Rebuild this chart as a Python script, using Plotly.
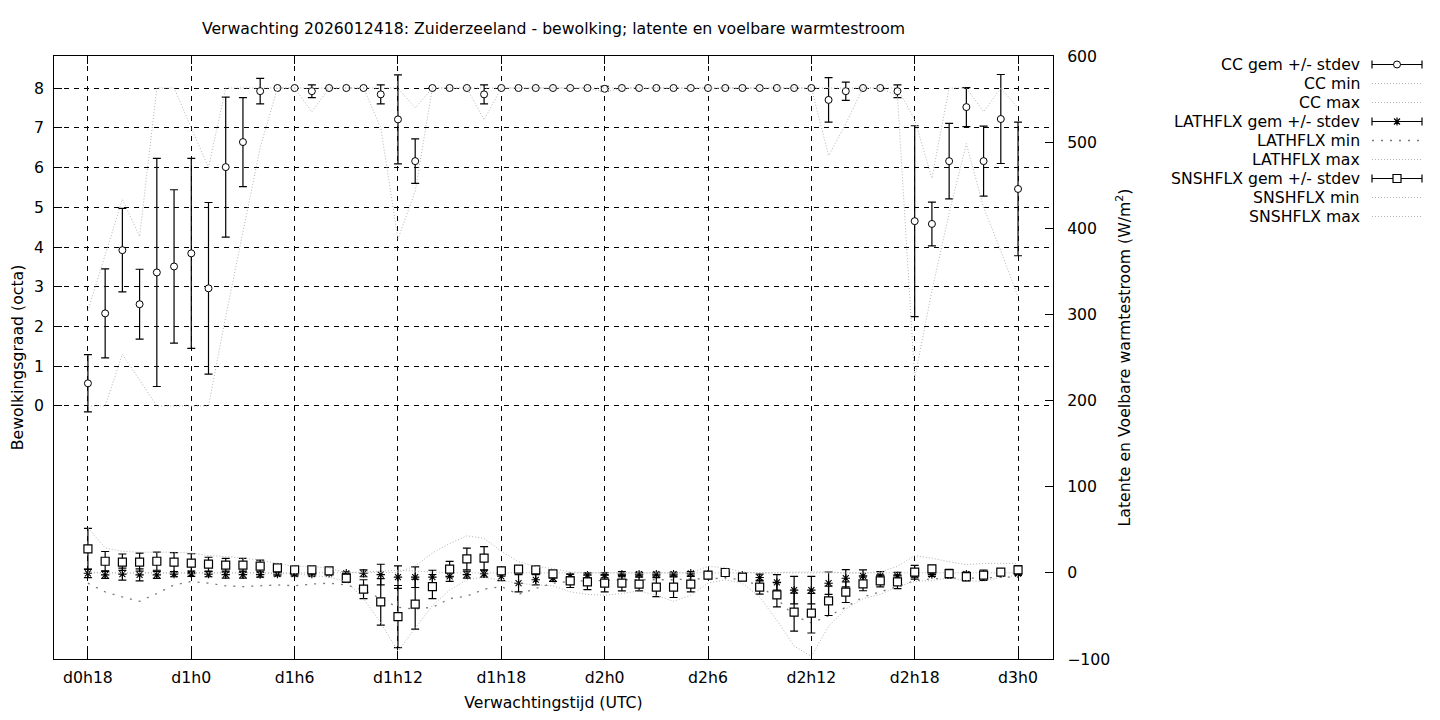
import plotly.graph_objects as go

# ---------------- data ----------------
hours = list(range(18, 73))  # forecast hours since d0h0
tick_vals = [18, 24, 30, 36, 42, 48, 54, 60, 66, 72]
tick_text = ["d0h18", "d1h0", "d1h6", "d1h12", "d1h18", "d2h0", "d2h6", "d2h12", "d2h18", "d3h0"]

cc_mean = [0.57, 2.33, 3.92, 2.56, 3.36, 3.51,
           3.84, 2.96, 6.01, 6.64, 7.92, 8.00,
           8.00, 7.92, 8.00, 8.00, 8.00, 7.84,
           7.21, 6.16, 8.00, 8.00, 8.00, 7.84,
           8.00, 8.00, 8.00, 8.00, 8.00, 8.00,
           7.98, 8.00, 8.00, 8.00, 8.00, 8.00,
           8.00, 8.00, 8.00, 8.00, 8.00, 8.00,
           8.00, 7.70, 7.92, 8.00, 8.00, 7.92,
           4.65, 4.58, 6.16, 7.52, 6.16, 7.22,
           5.46]
cc_sd = [0.72, 1.12, 1.05, 0.88, 2.87, 1.93,
         2.39, 2.16, 1.76, 1.12, 0.32, 0,
         0, 0.16, 0, 0, 0, 0.24,
         1.12, 0.56, 0, 0, 0, 0.24,
         0, 0, 0, 0, 0, 0,
         0.06, 0, 0, 0, 0, 0,
         0, 0, 0, 0, 0, 0,
         0, 0.56, 0.23, 0, 0, 0.16,
         2.40, 0.55, 0.95, 0.49, 0.88, 1.12,
         1.68]
cc_min = [0, 0, 1.3, 0.65, 0, 0,
          0, 0, 2.25, 4.4, 6.5, 8,
          8, 7.4, 8, 8, 8, 7.0,
          4.2, 5.4, 8, 8, 8, 7.2,
          8, 8, 8, 8, 8, 8,
          7.9, 8, 8, 8, 8, 8,
          8, 8, 8, 8, 8, 8,
          8, 6.3, 7.1, 8, 8, 7.8,
          0.7, 2.9, 4.85, 6.6, 5.0, 3.9,
          2.75]
cc_max = [2.4, 3.8, 5.2, 4.26, 8, 8,
          7.0, 6.0, 8, 8, 8, 8,
          8, 8, 8, 8, 8, 8,
          8, 7.5, 8, 8, 8, 8,
          8, 8, 8, 8, 8, 8,
          8, 8, 8, 8, 8, 8,
          8, 8, 8, 8, 8, 8,
          8, 8, 8, 8, 8, 8,
          7.2, 5.73, 8, 8, 7.4, 8,
          7.5]

lat_mean = [-0.5, -2.3, -1.5, -2.3, -2.3, -1.5,
            -1.0, -1.5, -2.0, -2.0, -2.0, -1.5,
            -1.5, -1.5, -0.5, -0.5, -0.5, -2.0,
            -5.0, -5.0, -5.0, -4.0, -2.0, -1.0,
            -4.0, -12.0, -8.0, -6.0, -4.3, -2.7,
            -2.7, -1.5, -1.5, -1.5, -1.5, -0.5,
            -1.5, -1.0, -3.0, -5.4, -11.0, -20.0,
            -20.0, -12.0, -6.2, -3.5, -3.5, -3.5,
            -2.0, -2.0, -1.5, -1.5, -1.5, -1.0,
            -1.0]
lat_sd = [5, 4, 7, 7, 4, 3,
          3, 3, 4, 4, 3, 2,
          2, 2, 1, 1.5, 4, 12,
          13, 12, 8, 6, 4, 4,
          5, 10, 6, 4, 3, 3,
          3, 3, 2, 2, 2, 2,
          2, 1, 2, 4, 9, 16,
          16, 13, 10, 7, 5, 4,
          3, 2, 2, 2, 2, 1,
          2]
lat_min = [-12, -22, -28, -33, -24, -14,
           -10, -12, -15, -16, -15, -14,
           -15, -13, -12, -14, -20, -30,
           -40, -42, -40, -30, -27, -19,
           -16, -25, -18, -12, -10, -9,
           -9, -8, -8, -8, -8, -7,
           -7, -6, -8, -15, -30, -50,
           -58, -50, -40, -28, -22, -16,
           -9, -7, -6, -6, -6, -5,
           -5]
lat_max = [1, 0, 0, 0, 0, 0,
           0, 0, 0, 0, 0, 0,
           0, 0, 0, 0, 1, 2,
           3, 2, 1, 0, 0, 0,
           0, 0, 0, 0, 0, 0,
           0, 0, 0, 0, 0, 0,
           0, 0, 0, 0, 0, 1,
           1, 1, 0, 0, 0, 0,
           0, 0, 0, 0, 0, 0,
           0]

sns_mean = [27.8, 13.5, 12.4, 12.4, 13.5, 12.4,
            11.2, 10.1, 8.9, 8.9, 7.8, 5.8,
            3.5, 3.5, 2.3, -6.2, -19.0, -33.7,
            -50.7, -36.4, -15.9, 4.3, 16.2, 17.0,
            2.3, 4.3, 3.5, -1.2, -9.3, -10.4,
            -12.0, -12.0, -13.0, -16.6, -16.6, -13.0,
            -2.7, 0.4, -5.0, -16.6, -25.5, -45.6,
            -46.8, -32.5, -22.4, -12.8, -9.3, -10.4,
            0.8, 4.6, -1.0, -4.3, -2.7, 0.8,
            3.5]
sns_sd = [23.8, 11.3, 9.5, 10.5, 10.5, 11,
          11, 8, 8, 8, 7, 4,
          3, 3, 2, 5, 11, 27,
          36, 29, 14, 9, 12.6, 13.5,
          4, 3, 2, 2, 7.7, 9,
          10, 9, 8, 11, 12, 9,
          4, 1, 4, 8, 14, 22,
          23, 17, 12, 8, 7, 8,
          8, 4, 5, 5, 6, 2,
          5]
sns_min = [0, 0, 0, 0, 0, 0,
           0, 0, 0, 0, 0, -1,
           -1, -3, -5, -10, -30, -58,
           -91, -64, -38, -20, -8, -5,
           -9, -12, -14, -15, -22, -25,
           -26, -24, -21, -26, -33, -26,
           -12, -8, -12, -28, -55, -85,
           -97, -62, -42, -30, -25, -16,
           -10, -9, -6, -9, -10, -5,
           -3]
sns_max = [52, 29, 25, 24, 24, 24,
           23, 20, 19, 17, 15, 11,
           7.5, 7.5, 5.5, 0, 0, 0,
           0.5, 8, 23, 34, 43, 40,
           25, 13, 7.5, 5, 1, 0,
           0, 0, 0, 0, 0, 0,
           7.5, 6, 1, 0, 0, 0,
           0, 0, 0, 0, 1, 7.5,
           20, 17, 13, 9.5, 11, 11,
           11]

legend_labels = ["CC gem +/- stdev", "CC min", "CC max",
                 "LATHFLX gem +/- stdev", "LATHFLX min", "LATHFLX max",
                 "SNSHFLX gem +/- stdev", "SNSHFLX min", "SNSHFLX max"]

title_text = "Verwachting 2026012418: Zuiderzeeland - bewolking; latente en voelbare warmtestroom"

# ---------------- styling ----------------
FONT = "DejaVu Sans"
FS = 15.7
LIGHT = "#b4b4b4"
DARK_DOT = "#7a7a7a"
LIGHT_DASH = "1px,2px"
SPARSE_DASH = "2px,7px"
OFF = 8                      # page body margin of the html page
W, H = 1440 - 2 * OFF, 720 - 2 * OFF
# plot area in screen pixels (reference frame)
PL, PR, PT, PB = 54, 1053, 56, 659


def nz(vals):
    return [v if v != 0 else None for v in vals]


fig = go.Figure()

err_style = dict(type="data", color="black", thickness=1.2, width=4)

# CC
fig.add_trace(go.Scatter(x=hours, y=cc_mean, mode="markers", yaxis="y",
                         marker=dict(symbol="circle", size=7, color="white",
                                     line=dict(color="black", width=1)),
                         error_y=dict(array=nz(cc_sd), **err_style),
                         showlegend=False))
fig.add_trace(go.Scatter(x=hours, y=cc_min, mode="lines", yaxis="y",
                         line=dict(color=LIGHT, width=1, dash=LIGHT_DASH), showlegend=False))
fig.add_trace(go.Scatter(x=hours, y=cc_max, mode="lines", yaxis="y",
                         line=dict(color=LIGHT, width=1, dash=LIGHT_DASH), showlegend=False))

# LATHFLX
fig.add_trace(go.Scatter(x=hours, y=lat_mean, mode="markers", yaxis="y2",
                         marker=dict(symbol="asterisk-open", size=7, color="black",
                                     line=dict(color="black", width=1.1)),
                         error_y=dict(array=nz(lat_sd), **err_style),
                         showlegend=False))
fig.add_trace(go.Scatter(x=hours, y=lat_min, mode="lines", yaxis="y2",
                         line=dict(color=DARK_DOT, width=1.3, dash=SPARSE_DASH), showlegend=False))
fig.add_trace(go.Scatter(x=hours, y=lat_max, mode="lines", yaxis="y2",
                         line=dict(color=LIGHT, width=1, dash=LIGHT_DASH), showlegend=False))

# SNSHFLX
fig.add_trace(go.Scatter(x=hours, y=sns_mean, mode="markers", yaxis="y2",
                         marker=dict(symbol="square", size=8, color="white",
                                     line=dict(color="black", width=1.2)),
                         error_y=dict(array=nz(sns_sd), **err_style),
                         showlegend=False))
fig.add_trace(go.Scatter(x=hours, y=sns_min, mode="lines", yaxis="y2",
                         line=dict(color=LIGHT, width=1, dash=LIGHT_DASH), showlegend=False))
fig.add_trace(go.Scatter(x=hours, y=sns_max, mode="lines", yaxis="y2",
                         line=dict(color=LIGHT, width=1, dash=LIGHT_DASH), showlegend=False))

GRID = dict(showgrid=True, gridcolor="black", gridwidth=1, griddash="5px,5px")
AX = dict(ticks="inside", ticklen=8, tickcolor="black", showline=True, linecolor="black",
          linewidth=1, zeroline=False, automargin=False,
          tickfont=dict(family=FONT, size=FS, color="black"))

fig.update_layout(
    width=W, height=H, autosize=False,
    margin=dict(l=PL - OFF, r=W - (PR - OFF), t=PT - OFF, b=H - (PB - OFF), pad=0,
                autoexpand=False),
    paper_bgcolor="white", plot_bgcolor="white",
    font=dict(family=FONT, size=FS, color="black"),
    title=dict(text=title_text, x=0.5, xref="paper", xanchor="center",
               y=1 - (29 - OFF) / H, yref="container", yanchor="middle",
               font=dict(family=FONT, size=FS, color="black")),
    xaxis=dict(range=[16.03, 74.03], tickmode="array", tickvals=tick_vals, ticktext=tick_text,
               mirror="ticks", ticklabelstandoff=4,
               title=dict(text="Verwachtingstijd (UTC)", standoff=20,
                          font=dict(family=FONT, size=FS)),
               **GRID, **AX),
    yaxis=dict(range=[-6.365, 8.805], tickmode="array", tickvals=list(range(0, 9)),
               ticklabelstandoff=6,
               title=dict(text="Bewolkingsgraad (octa)", standoff=8,
                          font=dict(family=FONT, size=FS)),
               **GRID, **AX),
    yaxis2=dict(range=[-100, 600], overlaying="y", side="right", tickmode="linear",
                tick0=0, dtick=100, showgrid=False, ticklabelstandoff=10,
                title=dict(text="Latente en Voelbare warmtestroom (W/m<sup>2</sup>)", standoff=9,
                           font=dict(family=FONT, size=FS)),
                **AX),
)


# ---------------- manual gnuplot-style legend ----------------
def px_x(px):
    return (px - PL) / (PR - PL)


def px_y(py):
    return (PB - py) / (PB - PT)


shapes = []
annotations = []
text_right = 1362
s0, s1 = 1372, 1422
smid = (s0 + s1) / 2
for i, lab in enumerate(legend_labels):
    py = 64.5 + 19.0 * i
    annotations.append(dict(text=lab, x=px_x(text_right), y=px_y(py), xref="paper", yref="paper",
                            xanchor="right", yanchor="middle", showarrow=False,
                            font=dict(family=FONT, size=FS, color="black")))
    yy = px_y(py)
    if "gem" in lab:
        shapes.append(dict(type="line", xref="paper", yref="paper", x0=px_x(s0), x1=px_x(s1),
                           y0=yy, y1=yy, line=dict(color="black", width=1.2)))
        for sx in (s0, s1):
            shapes.append(dict(type="line", xref="paper", yref="paper", xsizemode="scaled",
                               ysizemode="pixel", yanchor=yy, x0=px_x(sx), x1=px_x(sx),
                               y0=-4, y1=4, line=dict(color="black", width=1.2)))
        if lab.startswith("CC"):
            shapes.append(dict(type="circle", xref="paper", yref="paper", xsizemode="pixel",
                               ysizemode="pixel", xanchor=px_x(smid), yanchor=yy,
                               x0=-3.5, x1=3.5, y0=-3.5, y1=3.5, fillcolor="white",
                               line=dict(color="black", width=1)))
        elif lab.startswith("SNS"):
            shapes.append(dict(type="rect", xref="paper", yref="paper", xsizemode="pixel",
                               ysizemode="pixel", xanchor=px_x(smid), yanchor=yy,
                               x0=-4, x1=4, y0=-4, y1=4, fillcolor="white",
                               line=dict(color="black", width=1.2)))
        else:
            shapes.append(dict(type="path", xref="paper", yref="paper", xsizemode="pixel",
                               ysizemode="pixel", xanchor=px_x(smid), yanchor=yy,
                               path="M-4,0L4,0M0,-4L0,4M-3,-3L3,3M-3,3L3,-3",
                               line=dict(color="black", width=1.2)))
    else:
        sparse = lab == "LATHFLX min"
        shapes.append(dict(type="line", xref="paper", yref="paper", x0=px_x(s0), x1=px_x(s1),
                           y0=yy, y1=yy,
                           line=dict(color=DARK_DOT if sparse else LIGHT, width=1.3 if sparse else 1,
                                     dash=SPARSE_DASH if sparse else LIGHT_DASH)))

fig.update_layout(shapes=shapes, annotations=annotations)

fig.write_html("out.html")
